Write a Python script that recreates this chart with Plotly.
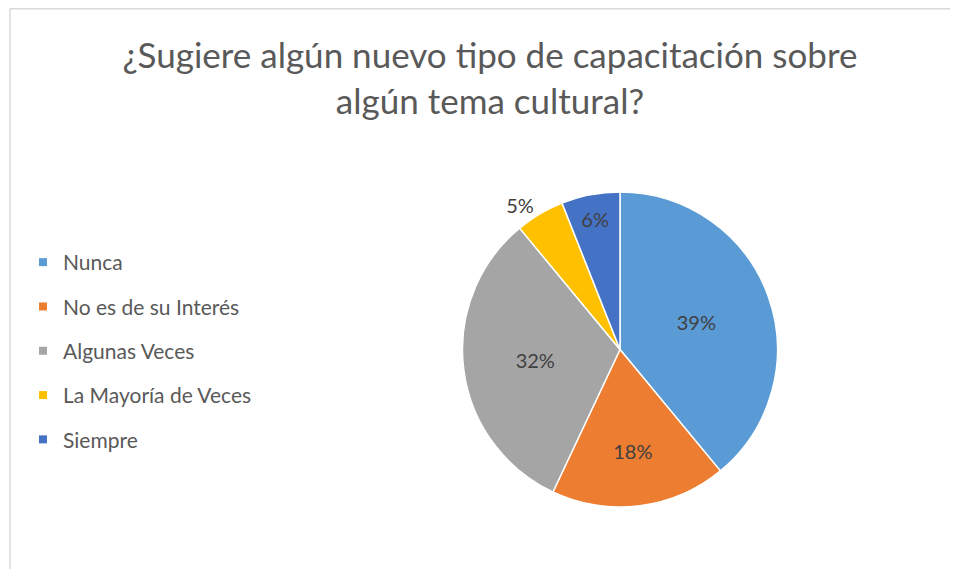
import plotly.graph_objects as go

categories = ["Nunca", "No es de su Interés", "Algunas Veces", "La Mayoría de Veces", "Siempre"]
values = [39, 18, 32, 5, 6]
colors = ["#5B9BD5", "#ED7D31", "#A5A5A5", "#FFC000", "#4472C4"]
text_positions = ["inside", "inside", "inside", "outside", "inside"]
title_text = "¿Sugiere algún nuevo tipo de capacitación sobre<br>algún tema cultural?"

# the page body has an 8px margin; size the figure so no scrollbars appear
W, H = 950, 561
fig = go.Figure()

fig.add_trace(go.Pie(
    labels=categories,
    values=values,
    sort=False,
    direction="clockwise",
    rotation=0,
    marker=dict(colors=colors, line=dict(color="white", width=1.5)),
    textinfo="percent",
    texttemplate="%{percent:.0%}",
    textposition=text_positions,
    insidetextorientation="horizontal",
    textfont=dict(family="Lato", size=20, color="#404040"),
    showlegend=False,
    domain=dict(x=[(612 - 165) / W, (612 + 165) / W], y=[(H - 499) / H, (H - 184) / H]),
))

for cat, col in zip(categories, colors):
    fig.add_trace(go.Scatter(
        x=[None], y=[None], mode="markers", name=cat,
        marker=dict(symbol="square", size=8, color=col),
        legendgroup=cat, showlegend=True,
    ))

border = dict(color="#D9D9D9", width=1.5)
fig.update_layout(
    width=W, height=H,
    margin=dict(l=0, r=0, t=0, b=0),
    paper_bgcolor="white",
    plot_bgcolor="white",
    title=dict(text=title_text, x=482 / W, xanchor="center", y=1 - 60 / H, yanchor="middle",
               yref="container", xref="paper",
               font=dict(family="Lato", size=35, color="#595959")),
    xaxis=dict(visible=False),
    yaxis=dict(visible=False),
    legend=dict(x=15 / W, y=1 - 234 / H, xanchor="left", yanchor="top",
                font=dict(family="Lato", size=21, color="#595959"),
                tracegroupgap=14, itemwidth=30, bgcolor="rgba(0,0,0,0)"),
    shapes=[
        dict(type="line", xref="paper", yref="paper", x0=2 / W, x1=1, y0=1 - 0.75 / H, y1=1 - 0.75 / H,
             line=border, layer="below"),
        dict(type="line", xref="paper", yref="paper", x0=2 / W, x1=2 / W, y0=0, y1=1 - 0.75 / H,
             line=border, layer="below"),
    ],
)

fig.write_html("out.html")
